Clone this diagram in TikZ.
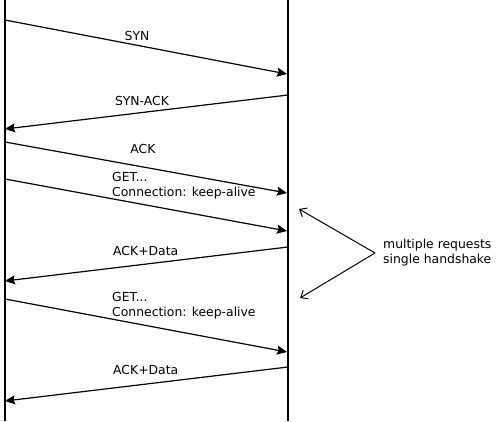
\documentclass[tikz,border=0pt]{standalone}
\usepackage{fontspec}
\setmainfont{DejaVu Sans}
\usetikzlibrary{arrows.meta}

\begin{document}
\begin{tikzpicture}[x=1pt, y=-1pt, every node/.style={font=\fontsize{12.4}{15}\selectfont, inner sep=0pt},
	lifeline/.style={line width=1.7pt},
	msg/.style={line width=1.2pt, -{Stealth[length=10pt, width=9pt, inset=1.5pt]}},
	note/.style={line width=1pt, -{Straight Barb[length=6pt, width=10pt]}}]
			\useasboundingbox (0,0) rectangle (496,421);

			% Lifelines
			\coordinate (ctop) at (5,0);
			\coordinate (cbot) at (5,421);
			\coordinate (stop) at (288,0);
			\coordinate (sbot) at (288,421);
			\draw[lifeline] (ctop) -- (cbot);
			\draw[lifeline] (stop) -- (sbot);

			% Ends of the messages
			\coordinate (syn-a) at (5,20);    \coordinate (syn-b) at (287,74);
			\coordinate (sack-a) at (288,95); \coordinate (sack-b) at (5,129);
			\coordinate (ack-a) at (5,142);   \coordinate (ack-b) at (287,193);
			\coordinate (get1-a) at (5,179);  \coordinate (get1-b) at (287,231);
			\coordinate (dat1-a) at (288,247);\coordinate (dat1-b) at (5,281);
			\coordinate (get2-a) at (5,299);  \coordinate (get2-b) at (287,352);
			\coordinate (dat2-a) at (288,367);\coordinate (dat2-b) at (5,401);

			% Messages
			\draw[msg] (syn-a) -- (syn-b);
			\draw[msg] (sack-a) -- (sack-b);
			\draw[msg] (ack-a) -- (ack-b);
			\draw[msg] (get1-a) -- (get1-b);
			\draw[msg] (dat1-a) -- (dat1-b);
			\draw[msg] (get2-a) -- (get2-b);
			\draw[msg] (dat2-a) -- (dat2-b);

			% Labels
			\node (syn) at (137,36) {SYN};
			\node (sack) at (142,101) {SYN-ACK};
			\node (ack) at (143,149) {ACK};
			\node[anchor=west, align=left] (get1) at (112,186) {GET...\\Connection: keep-alive};
			\node[anchor=west] (dat1) at (113,251) {ACK+Data};
			\node[anchor=west, align=left] (get2) at (112,305.5) {GET...\\Connection: keep-alive};
			\node[anchor=west] (dat2) at (113,370) {ACK+Data};

			% Note
			\node[anchor=west, align=left] (multi) at (383,253) {multiple requests\\single handshake};
			\coordinate (fork) at (375,253);
			\coordinate (up) at (299,209);
			\coordinate (down) at (300,298);
			\draw[note] (fork) -- (up);
			\draw[note] (fork) -- (down);
		\end{tikzpicture}
\end{document}
